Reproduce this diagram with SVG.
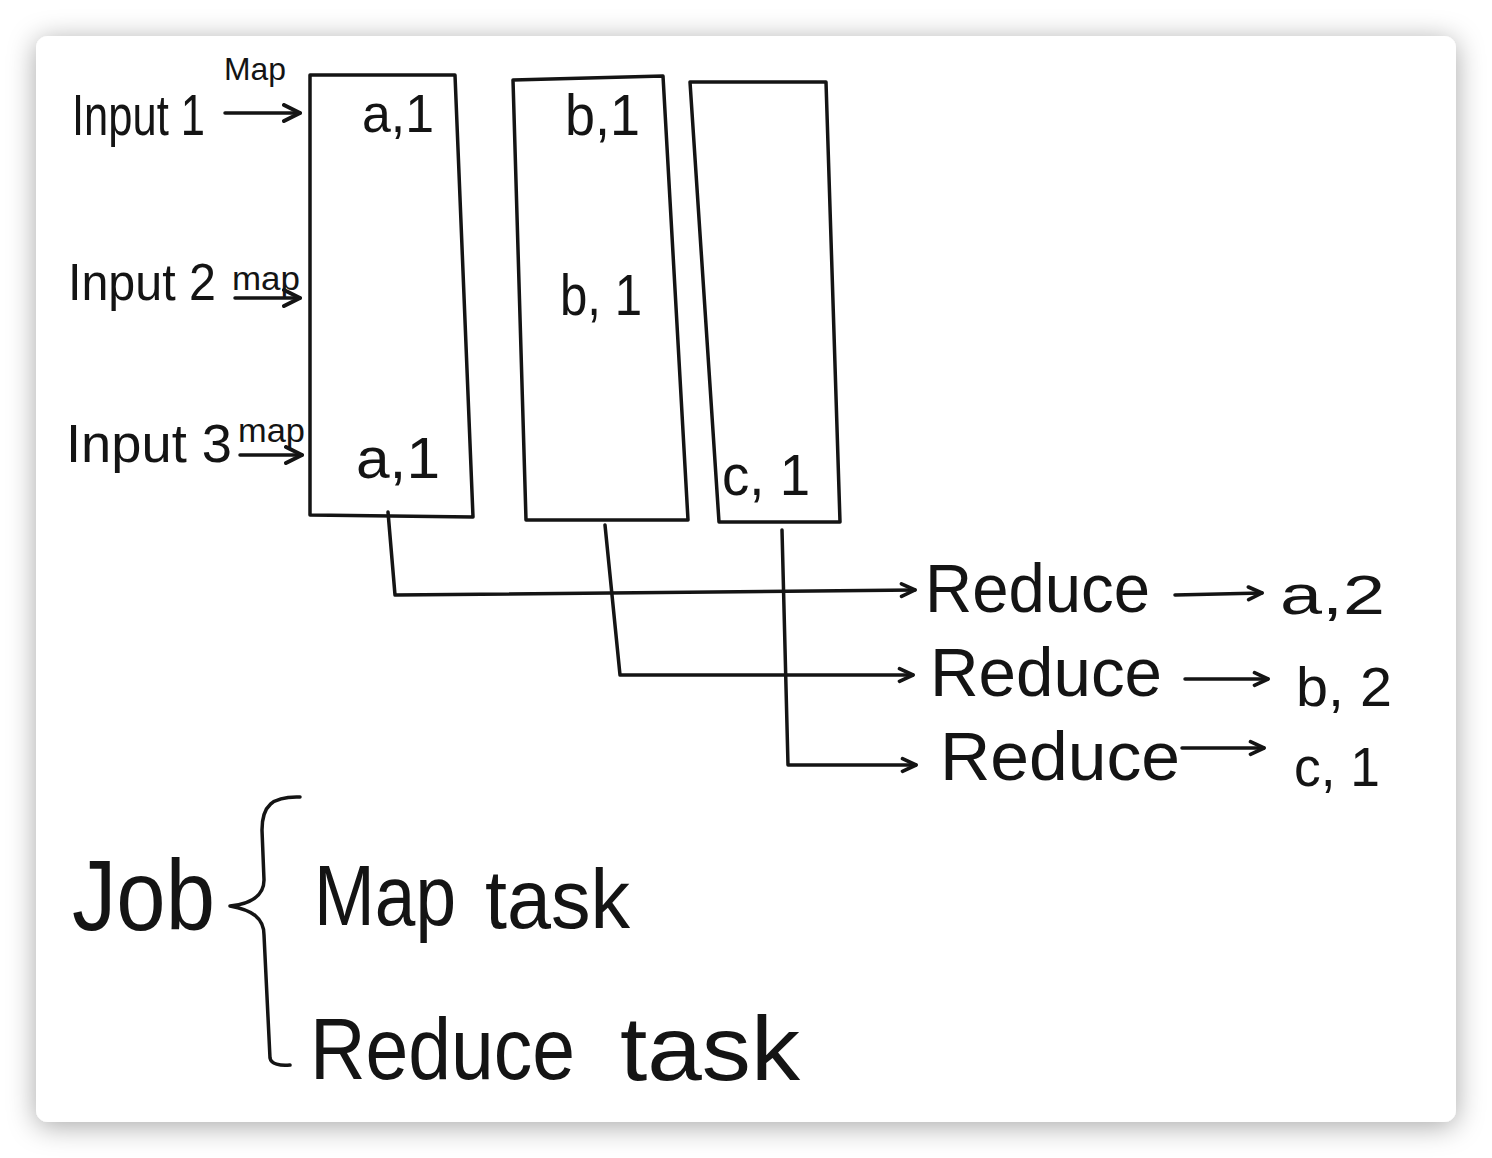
<svg xmlns="http://www.w3.org/2000/svg" width="1492" height="1158" viewBox="0 0 1492 1158">
<defs>
<filter id="sh" x="-10%" y="-10%" width="120%" height="120%">
<feDropShadow dx="0" dy="4" stdDeviation="14" flood-color="#000" flood-opacity="0.35"/>
</filter>
<marker id="ah" viewBox="0 0 20 20" refX="18" refY="10" markerWidth="20" markerHeight="20" markerUnits="userSpaceOnUse" orient="auto">
<path d="M2,2 L18,10 L2,18" fill="none" stroke="#141414" stroke-width="4" stroke-linecap="round" stroke-linejoin="round"/>
</marker>
<marker id="ahs" viewBox="0 0 20 20" refX="18" refY="10" markerWidth="18" markerHeight="18" markerUnits="userSpaceOnUse" orient="auto">
<path d="M3,3 L18,10 L3,17" fill="none" stroke="#141414" stroke-width="4" stroke-linecap="round" stroke-linejoin="round"/>
</marker>
</defs>
<style>
.ln{fill:none;stroke:#141414;stroke-width:3.5;stroke-linecap:round;stroke-linejoin:round}
.t{font-family:"Liberation Sans","DejaVu Sans",sans-serif;fill:#141414;font-weight:normal}
</style>
<rect width="1492" height="1158" fill="#ffffff"/>
<rect x="36" y="36" width="1420" height="1086" rx="12" fill="#ffffff" filter="url(#sh)"/>

<g id="input1">
<text class="t" x="72" y="135" font-size="58" textLength="133" lengthAdjust="spacingAndGlyphs">Input 1</text>
<text class="t" x="224" y="80" font-size="32" textLength="62" lengthAdjust="spacingAndGlyphs">Map</text>
</g>
<g id="input2">
<text class="t" x="68" y="300" font-size="52" textLength="148" lengthAdjust="spacingAndGlyphs">Input 2</text>
<text class="t" x="232" y="290" font-size="34" textLength="68" lengthAdjust="spacingAndGlyphs">map</text>
</g>
<g id="input3">
<text class="t" x="66" y="462" font-size="54" textLength="166" lengthAdjust="spacingAndGlyphs">Input 3</text>
<text class="t" x="238" y="442" font-size="34" textLength="67" lengthAdjust="spacingAndGlyphs">map</text>
</g>

<g id="box1">
<path class="ln" d="M310,75 L455,75 L473,517 L310,515 Z"/>
<text class="t" x="362" y="132" font-size="54" textLength="72" lengthAdjust="spacingAndGlyphs">a,1</text>
<text class="t" x="356" y="478" font-size="58" textLength="84" lengthAdjust="spacingAndGlyphs">a,1</text>
</g>
<g id="box2">
<path class="ln" d="M513,80 L663,76 L688,520 L526,520 Z"/>
<text class="t" x="565" y="135" font-size="58" textLength="75" lengthAdjust="spacingAndGlyphs">b,1</text>
<text class="t" x="560" y="315" font-size="58" textLength="82" lengthAdjust="spacingAndGlyphs">b, 1</text>
</g>
<g id="box3">
<path class="ln" d="M690,82 L826,82 L840,522 L719,522 Z"/>
<text class="t" x="722" y="495" font-size="58" textLength="88" lengthAdjust="spacingAndGlyphs">c, 1</text>
</g>

<g id="reduce1">
<text class="t" x="925" y="612" font-size="68" textLength="225" lengthAdjust="spacingAndGlyphs">Reduce</text>
<text class="t" x="1280" y="614" font-size="56" textLength="105" lengthAdjust="spacingAndGlyphs">a,2</text>
</g>
<g id="reduce2">
<text class="t" x="930" y="696" font-size="68" textLength="232" lengthAdjust="spacingAndGlyphs">Reduce</text>
<text class="t" x="1296" y="706" font-size="56" textLength="96" lengthAdjust="spacingAndGlyphs">b, 2</text>
</g>
<g id="reduce3">
<text class="t" x="940" y="780" font-size="68" textLength="240" lengthAdjust="spacingAndGlyphs">Reduce</text>
<text class="t" x="1294" y="786" font-size="56" textLength="86" lengthAdjust="spacingAndGlyphs">c, 1</text>
</g>

<g id="job">
<text class="t" x="72" y="930" font-size="100" textLength="143" lengthAdjust="spacingAndGlyphs">Job</text>
<path class="ln" d="M300,797 C272,796 262,806 262,830 L264,880 C264,896 250,904 230,906 C252,910 264,918 264,935 L270,1058 C271,1064 280,1066 290,1065"/>
</g>
<g id="maptask">
<text class="t" x="314" y="925" font-size="86" textLength="142" lengthAdjust="spacingAndGlyphs">Map</text>
<text class="t" x="485" y="928" font-size="84" textLength="145" lengthAdjust="spacingAndGlyphs">task</text>
</g>
<g id="reducetask">
<text class="t" x="310" y="1079" font-size="88" textLength="265" lengthAdjust="spacingAndGlyphs">Reduce</text>
<text class="t" x="620" y="1080" font-size="90" textLength="180" lengthAdjust="spacingAndGlyphs">task</text>
</g>

<g id="connectors">
<path class="ln" d="M225,113 L300,113" marker-end="url(#ah)"/>
<path class="ln" d="M235,298 L300,298" marker-end="url(#ah)"/>
<path class="ln" d="M240,455 L302,455" marker-end="url(#ah)"/>
<path class="ln" d="M388,512 L395,595 L915,590" marker-end="url(#ahs)"/>
<path class="ln" d="M605,525 L620,675 L913,675" marker-end="url(#ahs)"/>
<path class="ln" d="M782,530 L788,765 L916,765" marker-end="url(#ahs)"/>
<path class="ln" d="M1175,595 L1262,593" marker-end="url(#ahs)"/>
<path class="ln" d="M1185,679 L1268,679" marker-end="url(#ahs)"/>
<path class="ln" d="M1182,748 L1264,748" marker-end="url(#ahs)"/>
</g>
</svg>
